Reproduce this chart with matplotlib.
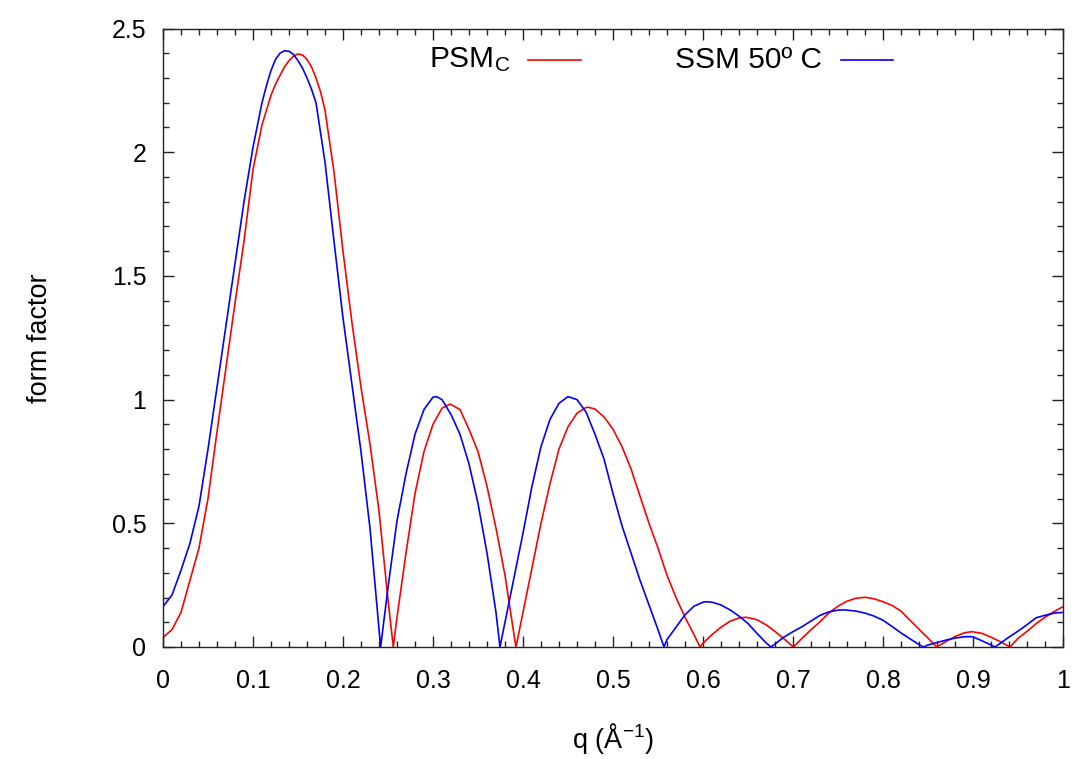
import matplotlib
matplotlib.use("Agg")
import matplotlib.pyplot as plt
from matplotlib.ticker import MultipleLocator, FormatStrFormatter

plt.rcParams['font.family'] = ['Liberation Sans', 'DejaVu Sans']
plt.rcParams['mathtext.fontset'] = 'custom'
plt.rcParams['mathtext.rm'] = 'Liberation Sans'
plt.rcParams['mathtext.it'] = 'Liberation Sans'
plt.rcParams['mathtext.sf'] = 'Liberation Sans'

# ---- data ----
q_ssm = [0.00, 0.01, 0.02, 0.03, 0.04, 0.05, 0.06, 0.07, 0.08, 0.09, 0.10, 0.11, 0.115, 0.12,
         0.125, 0.13, 0.135, 0.14, 0.145, 0.15, 0.155, 0.16, 0.165, 0.17, 0.18, 0.19, 0.20,
         0.21, 0.22, 0.23, 0.2418,
         0.25, 0.26, 0.27, 0.28, 0.29, 0.30, 0.304, 0.31, 0.32, 0.33, 0.34, 0.35, 0.36, 0.37, 0.3744,
         0.38, 0.39, 0.40, 0.41, 0.42, 0.43, 0.44, 0.45, 0.46, 0.47, 0.48, 0.49, 0.50, 0.51, 0.52,
         0.53, 0.54, 0.55, 0.5567,
         0.56, 0.57, 0.58, 0.59, 0.60, 0.604, 0.61, 0.62, 0.63, 0.64, 0.65, 0.66, 0.67, 0.6756,
         0.68, 0.69, 0.70, 0.71, 0.72, 0.73, 0.74, 0.75, 0.756, 0.76, 0.77, 0.78, 0.79, 0.80, 0.81,
         0.82, 0.83, 0.84, 0.8448,
         0.85, 0.86, 0.87, 0.88, 0.89, 0.897, 0.90, 0.91, 0.92, 0.9244,
         0.93, 0.94, 0.95, 0.96, 0.97, 0.98, 0.99, 1.00]
ff_ssm = [0.163, 0.21, 0.31, 0.42, 0.57, 0.80, 1.05, 1.30, 1.55, 1.80, 2.02, 2.20, 2.27, 2.33,
          2.375, 2.40, 2.41, 2.408, 2.395, 2.37, 2.34, 2.30, 2.255, 2.20, 1.96, 1.64, 1.33,
          1.06, 0.79, 0.48, 0.0,
          0.24, 0.51, 0.70, 0.86, 0.96, 1.01, 1.012, 1.00, 0.94, 0.86, 0.74, 0.58, 0.38, 0.14, 0.0,
          0.10, 0.28, 0.46, 0.65, 0.81, 0.92, 0.985, 1.012, 1.00, 0.95, 0.86, 0.76, 0.62, 0.49, 0.38,
          0.27, 0.17, 0.07, 0.0,
          0.03, 0.08, 0.13, 0.165, 0.181, 0.183, 0.181, 0.170, 0.150, 0.125, 0.095, 0.055, 0.017, 0.0,
          0.012, 0.040, 0.062, 0.082, 0.105, 0.128, 0.142, 0.149, 0.150, 0.149, 0.145, 0.137, 0.125,
          0.108, 0.083, 0.057, 0.033, 0.010, 0.0,
          0.008, 0.018, 0.028, 0.036, 0.041, 0.042, 0.041, 0.025, 0.008, 0.0,
          0.014, 0.040, 0.064, 0.090, 0.118, 0.128, 0.137, 0.140]

q_psm = [0.00, 0.01, 0.02, 0.03, 0.04, 0.05, 0.06, 0.07, 0.08, 0.09, 0.10, 0.11, 0.12, 0.125,
         0.13, 0.135, 0.14, 0.145, 0.15, 0.155, 0.16, 0.165, 0.17, 0.175, 0.18, 0.19, 0.20,
         0.21, 0.22, 0.23, 0.24, 0.25, 0.2559,
         0.26, 0.27, 0.28, 0.29, 0.30, 0.31, 0.319, 0.33, 0.34, 0.35, 0.36, 0.37, 0.38, 0.39, 0.3922,
         0.40, 0.41, 0.42, 0.43, 0.44, 0.45, 0.46, 0.47, 0.4726, 0.48, 0.49, 0.50, 0.51, 0.52, 0.53,
         0.54, 0.55, 0.56, 0.57, 0.58, 0.59, 0.5967,
         0.60, 0.61, 0.62, 0.63, 0.64, 0.647, 0.65, 0.66, 0.67, 0.68, 0.69, 0.7004,
         0.71, 0.72, 0.73, 0.74, 0.75, 0.76, 0.77, 0.78, 0.79, 0.80, 0.81, 0.82, 0.83, 0.84, 0.85,
         0.8596,
         0.87, 0.88, 0.89, 0.8985, 0.91, 0.92, 0.93, 0.9411,
         0.95, 0.96, 0.97, 0.98, 0.99, 1.00]
ff_psm = [0.039, 0.07, 0.14, 0.27, 0.40, 0.60, 0.87, 1.13, 1.39, 1.64, 1.93, 2.11, 2.23, 2.275,
          2.31, 2.345, 2.37, 2.388, 2.397, 2.393, 2.375, 2.345, 2.30, 2.245, 2.17, 1.92, 1.60,
          1.31, 1.05, 0.82, 0.55, 0.19, 0.0,
          0.12, 0.38, 0.62, 0.79, 0.90, 0.965, 0.982, 0.96, 0.88, 0.79, 0.65, 0.48, 0.29, 0.05, 0.0,
          0.14, 0.32, 0.50, 0.66, 0.80, 0.89, 0.945, 0.968, 0.969, 0.962, 0.93, 0.88, 0.81, 0.72, 0.61,
          0.50, 0.40, 0.29, 0.20, 0.12, 0.05, 0.0,
          0.015, 0.05, 0.08, 0.104, 0.117, 0.120, 0.119, 0.11, 0.09, 0.063, 0.033, 0.0,
          0.035, 0.07, 0.102, 0.138, 0.165, 0.185, 0.197, 0.201, 0.195, 0.183, 0.168, 0.145, 0.108,
          0.072, 0.036, 0.0,
          0.022, 0.042, 0.057, 0.062, 0.055, 0.040, 0.022, 0.0,
          0.035, 0.063, 0.094, 0.120, 0.143, 0.163]

labels = ['PSM$_\\mathrm{C}$', 'SSM 50º C']
colors = ['#ff0000', '#0000ff']

xticks = [0, 0.1, 0.2, 0.3, 0.4, 0.5, 0.6, 0.7, 0.8, 0.9, 1]
yticks = [0, 0.5, 1, 1.5, 2, 2.5]

# ---- figure ----
fig = plt.figure(figsize=(10.78, 7.59), dpi=100)
ax = fig.add_axes([163 / 1078, 112 / 759, 900 / 1078, 618.5 / 759])

ax.plot(q_psm, ff_psm, color=colors[0], lw=1.2)
ax.plot(q_ssm, ff_ssm, color=colors[1], lw=1.2)

ax.set_xlim(0, 1)
ax.set_ylim(0, 2.5)
ax.set_xticks(xticks)
ax.set_yticks(yticks)
ax.xaxis.set_major_formatter(FormatStrFormatter('%g'))
ax.yaxis.set_major_formatter(FormatStrFormatter('%g'))
ax.xaxis.set_minor_locator(MultipleLocator(0.02))
ax.yaxis.set_minor_locator(MultipleLocator(0.1))
ax.tick_params(which='both', direction='in', top=True, right=True, width=1.0, color='#222222')
ax.tick_params(which='major', length=8)
ax.tick_params(which='minor', length=4.5)
ax.tick_params(axis='x', which='major', pad=16, labelsize=18)
ax.tick_params(axis='y', which='major', pad=12, labelsize=18)
for s in ax.spines.values():
    s.set_linewidth(1.0)
    s.set_color('#222222')

ax.set_xlabel('q (Å$^{-1}$)', fontsize=19.5, labelpad=20)
ax.set_ylabel('form factor', fontsize=19.5, labelpad=42)

# key (legend) in gnuplot style: label right-aligned, then sample line
key_y = 0.949
text_right = [0.3856, 0.7322]
line_x = [(0.4056, 0.4644), (0.7533, 0.8111)]
for lab, col, tx, (x1, x2) in zip(labels, colors, text_right, line_x):
    ax.text(tx, key_y, lab, transform=ax.transAxes, ha='right', va='center', fontsize=21.5)
    ax.plot([x1, x2], [key_y, key_y], transform=ax.transAxes, color=col, lw=1.2, clip_on=False)

fig.savefig('out.png', dpi=100)
